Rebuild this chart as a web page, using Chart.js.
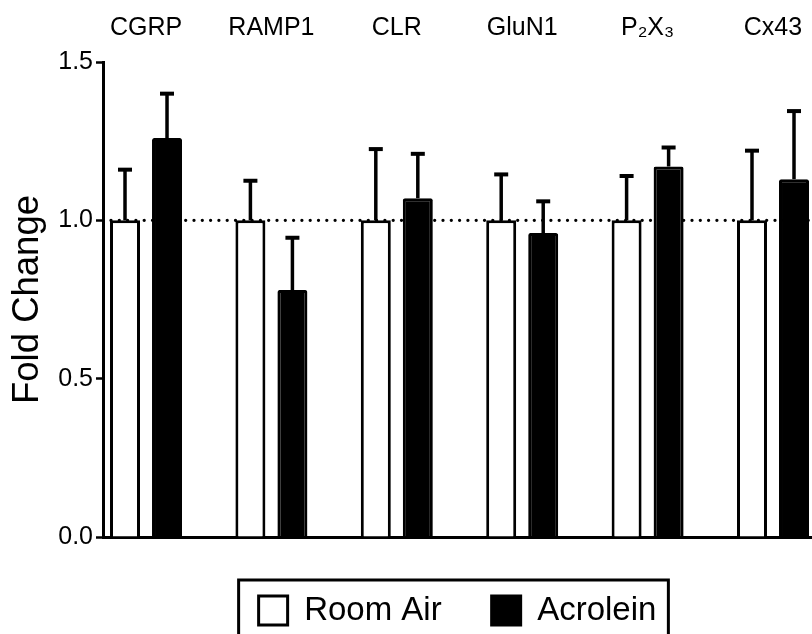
<!DOCTYPE html>
<html>
<head>
<meta charset="utf-8">
<script src="https://cdn.jsdelivr.net/npm/chart.js@4/dist/chart.umd.min.js"></script>
<style>
  html, body { margin: 0; padding: 0; background: #fff; overflow: hidden; }
</style>
</head>
<body>
<canvas id="chart" width="812" height="637"></canvas>
<script>
'use strict';
let genes = ['CGRP', 'RAMP1', 'CLR', 'GluN1', 'P\u2082X\u2083', 'Cx43'];
let roomAir = [1.0, 1.0, 1.0, 1.0, 1.0, 1.0];
let roomAirSem = [0.16, 0.125, 0.225, 0.145, 0.14, 0.22];
let acrolein = [1.26, 0.78, 1.07, 0.96, 1.17, 1.13];
let acroleinSem = [0.14, 0.165, 0.14, 0.10, 0.06, 0.215];
let yTicks = [0, 0.5, 1.0, 1.5];
let baseline = 1.0;

let font = '"Liberation Sans", Arial, Helvetica, sans-serif';

function points(vals) {
    return vals.map(function (v, i) { return {x: i, y: v}; });
}

// dotted line at fold change = 1
let refLine = {
    id: 'refLine',
    beforeDatasetsDraw(chart) {
        let ctx = chart.ctx;
        let area = chart.chartArea;
        let y = chart.scales.y.getPixelForValue(baseline);
        ctx.save();
        ctx.strokeStyle = '#000';
        ctx.lineWidth = 3.3;
        ctx.lineCap = 'round';
        ctx.setLineDash([0, 8.3]);
        ctx.beginPath();
        ctx.moveTo(area.left + 8, y);
        ctx.lineTo(area.right, y);
        ctx.stroke();
        ctx.restore();
    }
};

// upper error bars (mean + SEM)
let errorBars = {
    id: 'errorBars',
    afterDatasetsDraw(chart) {
        let ctx = chart.ctx;
        let yScale = chart.scales.y;
        chart.data.datasets.forEach(function (ds, di) {
            let meta = chart.getDatasetMeta(di);
            meta.data.forEach(function (bar, i) {
                let top = yScale.getPixelForValue(ds.data[i].y + ds.errors[i]);
                ctx.save();
                ctx.strokeStyle = '#000';
                ctx.lineWidth = 3.5;
                ctx.beginPath();
                ctx.moveTo(bar.x, bar.y);
                ctx.lineTo(bar.x, top);
                ctx.stroke();
                ctx.lineWidth = 4;
                ctx.beginPath();
                ctx.moveTo(bar.x - 7, top);
                ctx.lineTo(bar.x + 7, top);
                ctx.stroke();
                ctx.restore();
            });
        });
    }
};

// frame round the legend
let legendFrame = {
    id: 'legendFrame',
    afterDraw(chart) {
        let hb = chart.legend.legendHitBoxes;
        if (!hb || !hb.length) return;
        let last = hb[hb.length - 1];
        let x0 = hb[0].left - 20;
        let x1 = last.left + last.width + 12;
        let y0 = hb[0].top - 14;
        let ctx = chart.ctx;
        ctx.save();
        ctx.strokeStyle = '#000';
        ctx.lineWidth = 3;
        ctx.strokeRect(x0, y0, x1 - x0, 200);
        ctx.restore();
    }
};

function noSidePadding(scale) {
    scale.paddingLeft = 0;
    scale.paddingRight = 0;
}

let ctx = document.getElementById('chart').getContext('2d');
let chart = new Chart(ctx, {
    type: 'bar',
    data: {
        datasets: [{
            label: 'Room Air',
            data: points(roomAir),
            errors: roomAirSem,
            backgroundColor: '#fff',
            borderColor: '#000',
            borderWidth: 3
        },
        {
            label: 'Acrolein',
            data: points(acrolein),
            errors: acroleinSem,
            backgroundColor: '#000',
            borderColor: '#000',
            borderWidth: 3,
            borderRadius: 2
        }]
    },
    options: {
        responsive: false,
        animation: false,
        devicePixelRatio: 1,
        categoryPercentage: 0.67,
        barPercentage: 0.714,
        layout: { padding: 0 },
        scales: {
            x: {
                type: 'linear',
                position: 'top',
                min: -0.343,
                max: 5.311,
                offset: false,
                afterBuildTicks: function (scale) {
                    scale.ticks = genes.map(function (g, i) { return {value: i}; });
                },
                afterFit: function (scale) { scale.height = 62; noSidePadding(scale); },
                grid: { display: false, drawTicks: false, offset: false },
                border: { display: false },
                ticks: {
                    padding: 19,
                    maxRotation: 0,
                    autoSkip: false,
                    color: '#000',
                    font: { family: font, size: 25 },
                    callback: function (v) { return genes[v]; }
                }
            },
            x2: {
                type: 'linear',
                position: 'bottom',
                min: -0.343,
                max: 5.311,
                offset: false,
                afterFit: function (scale) { scale.height = 7; noSidePadding(scale); },
                grid: { display: false, drawTicks: false, offset: false },
                border: { display: true, color: '#000', width: 3 },
                ticks: { display: false }
            },
            y: {
                min: 0,
                max: 1.5,
                afterBuildTicks: function (scale) {
                    scale.ticks = yTicks.map(function (v) { return {value: v}; });
                },
                afterFit: function (scale) { scale.width = 103; },
                grid: {
                    drawOnChartArea: false,
                    drawTicks: true,
                    tickLength: 7,
                    tickColor: '#000',
                    tickWidth: 2.5
                },
                border: { display: true, color: '#000', width: 3 },
                ticks: {
                    padding: 3,
                    color: '#000',
                    font: { family: font, size: 25 },
                    callback: function (v) { return v.toFixed(1); }
                },
                title: {
                    display: true,
                    text: 'Fold Change',
                    color: '#000',
                    padding: { top: 6, bottom: 0 },
                    font: { family: font, size: 36.5 }
                }
            }
        },
        plugins: {
            tooltip: { enabled: false },
            legend: {
                position: 'bottom',
                fullSize: false,
                labels: {
                    boxWidth: 29,
                    boxHeight: 29,
                    padding: 50,
                    color: '#000',
                    font: { family: font, size: 33 }
                }
            }
        }
    },
    plugins: [refLine, errorBars, legendFrame]
});
</script>
</body>
</html>
